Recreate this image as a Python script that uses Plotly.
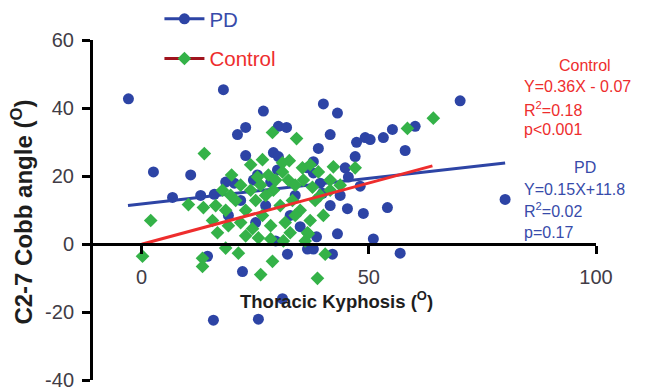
import plotly.graph_objects as go

# ---- data ----
pd_x = [-2.9, 18.0, 2.6, 10.8, 21.1, 22.9, 22.9, 6.8, 16.0, 18.5, 26.8, 40.0, 43.1, 30.1, 31.9,
        41.5, 49.2, 50.3, 47.3, 53.2, 55.2, 60.2, 38.9, 58.0, 29.0, 30.1, 37.8, 47.0, 29.9, 36.5,
        37.8, 44.8, 45.5, 24.6, 28.4, 39.3, 48.1, 70.1, 80.0, 45.3, 48.8, 54.1, 43.1, 51.0, 56.9,
        36.5, 37.8, 42.0, 32.1, 31.0, 25.7, 15.8, 22.2, 14.5, 27.3, 32.7, 34.9, 25.1, 38.5, 21.8,
        29.5, 19.1, 33.8, 41.5, 43.7, 20.4, 25.5, 39.8, 13.0]
pd_y = [42.7, 45.4, 21.2, 20.3, 32.2, 34.3, 26.0, 13.7, 14.6, 18.2, 39.1, 41.2, 38.5, 34.6, 34.3,
        32.2, 31.3, 30.7, 29.9, 31.3, 33.7, 34.6, 28.1, 27.5, 26.9, 25.7, 24.2, 25.7, 21.8, 22.4,
        20.9, 22.4, 19.7, 18.8, 18.2, 17.9, 17.0, 42.1, 13.1, 10.4, 9.0, 10.7, 3.0, 1.5, -2.7,
        -1.5, -1.5, -3.0, -3.0, -16.1, -22.1, -22.4, -8.1, -3.6, 11.3, 8.4, 5.1, 6.3, 2.1, 12.8,
        0.9, 8.4, 14.3, 11.3, 14.3, 17.9, 20.3, 14.9, 14.3]

ctrl_x = [13.8, 19.8, 25.5, 28.8, 34.1, 58.5, 64.2, 32.5, 31.0, 35.4, 42.2, 47.0, 35.6, 41.5, 37.6,
          29.0, 40.0, 36.5, 40.4, 25.7, 31.2, 36.0, 36.7, 28.8, 26.2, 38.7, 2.0, 10.3, 13.6, 0.2,
          13.4, 13.4, 18.5, 21.3, 16.7, 17.8, 19.6, 21.8, 24.0, 26.2, 27.9, 29.5, 31.0, 32.3, 33.8,
          16.3, 18.5, 20.7, 22.9, 25.1, 27.3, 30.5, 33.2, 34.9, 38.2, 15.6, 19.1, 21.8, 24.4, 26.6,
          28.4, 31.6, 33.8, 37.1, 22.9, 28.4, 32.7, 39.3, 41.5, 43.7, 26.6, 24.0, 37.1, 38.9]
ctrl_y = [26.6, 20.3, 19.7, 32.8, 31.0, 34.0, 37.0, 24.5, 23.9, 22.4, 22.7, 22.4, 18.8, 18.8, 16.7,
          15.8, 8.4, 3.3, -3.0, 1.8, 0.9, 0.9, 3.0, -5.1, -9.0, -10.1, 6.9, 11.6, 10.7, -3.6,
          -4.2, -6.6, -1.2, -2.7, 3.3, 15.8, 14.3, 17.3, 15.8, 17.3, 20.3, 18.8, 21.2, 18.8, 17.3,
          11.3, 9.9, 12.8, 9.9, 12.8, 14.3, 11.3, 12.8, 9.9, 12.8, 6.9, 5.4, 6.3, 4.5, 8.4,
          5.4, 6.3, 8.4, 6.9, 2.4, 1.5, 3.3, 14.3, 15.8, 17.3, 24.8, 23.3, 23.3, 21.2]

# regression equations shown on the chart
pd_slope, pd_intercept, pd_xspan = 0.15, 11.8, [-3, 80]
ctrl_slope, ctrl_intercept, ctrl_xspan = 0.36, -0.07, [0, 64]

x_ticks = [0, 50, 100]
x_ticklabels = ["0", "50", "100"]
y_ticks = [-40, -20, 0, 20, 40, 60]
y_ticklabels = ["-40", "-20", "0", "20", "40", "60"]

BLUE = "rgb(45,68,165)"
GREEN = "rgb(52,178,72)"
RED = "rgb(238,45,45)"
DARKRED = "rgb(160,20,30)"
TXT_BLUE = "rgb(55,75,170)"
FONT = "Arial, Liberation Sans, sans-serif"

fig = go.Figure()

fig.add_trace(go.Scatter(x=pd_x, y=pd_y, mode="markers", showlegend=False,
                         marker=dict(symbol="circle", size=11, color=BLUE)))
fig.add_trace(go.Scatter(x=pd_xspan, y=[pd_slope * v + pd_intercept for v in pd_xspan],
                         mode="lines", showlegend=False, line=dict(color=BLUE, width=3)))
fig.add_trace(go.Scatter(x=ctrl_x, y=ctrl_y, mode="markers", showlegend=False,
                         marker=dict(symbol="diamond", size=10.5, color=GREEN)))
fig.add_trace(go.Scatter(x=ctrl_xspan, y=[ctrl_slope * v + ctrl_intercept for v in ctrl_xspan],
                         mode="lines", showlegend=False, line=dict(color=RED, width=3)))

# legend entries
fig.add_trace(go.Scatter(x=[None], y=[None], mode="lines+markers", legendgroup="a",
                         name=f'<span style="color:{TXT_BLUE}">PD</span>',
                         line=dict(color=BLUE, width=3),
                         marker=dict(symbol="circle", size=11, color=BLUE)))
fig.add_trace(go.Scatter(x=[None], y=[None], mode="lines+markers", legendgroup="b",
                         name=f'<span style="color:{RED}">Control</span>',
                         line=dict(color=DARKRED, width=3),
                         marker=dict(symbol="diamond", size=10.5, color=GREEN)))

# the page body adds an 8px offset, so the figure is sized/positioned to compensate
OFF = 8
PL, PR, PT, PB = 92.5, 596, 40, 380          # plot area in screen pixels
W, H = 647 - OFF, 388 - OFF
L, R, T, B = PL - OFF, W - (PR - OFF), PT - OFF, H - (PB - OFF)
pw, ph = W - L - R, H - T - B


def px2paper(px, py):
    """screen pixel -> paper coordinates"""
    return (px - OFF - L) / pw, (H - B - (py - OFF)) / ph


anns = [
    ("Control", 585, 66, RED, "center"),
    ("Y=0.36X - 0.07", 523, 87, RED, "left"),
    ("R<sup>2</sup>=0.18", 523, 109, RED, "left"),
    ("p<0.001", 523, 130, RED, "left"),
    ("PD", 585, 167, TXT_BLUE, "center"),
    ("Y=0.15X+11.8", 523, 189, TXT_BLUE, "left"),
    ("R<sup>2</sup>=0.02", 523, 210, TXT_BLUE, "left"),
    ("p=0.17", 523, 232, TXT_BLUE, "left"),
]
for txt, px, py, col, al in anns:
    ax, ay = px2paper(px, py)
    fig.add_annotation(text=txt, xref="paper", yref="paper", x=ax, y=ay,
                       xanchor=al, yanchor="middle", showarrow=False, borderpad=0,
                       font=dict(family=FONT, size=16, color=col))

# axis titles
tx, ty = px2paper(336, 300)
fig.add_annotation(text="<b>Thoracic Kyphosis (<sup>O</sup>)</b>", xref="paper", yref="paper",
                   x=tx, y=ty, xanchor="center", yanchor="middle", showarrow=False,
                   font=dict(family=FONT, size=18.5, color="rgb(30,30,30)"))
yx, yy = px2paper(21, 212)
fig.add_annotation(text="<b>C2-7 Cobb angle (<sup>O</sup>)</b>", xref="paper", yref="paper",
                   x=yx, y=yy, xanchor="center", yanchor="middle", showarrow=False,
                   textangle=-90, font=dict(family=FONT, size=24, color="rgb(30,30,30)"))

lgx, _ = px2paper(159, 0)
_, lgy = px2paper(0, -1)
fig.update_layout(
    width=W, height=H,
    margin=dict(l=L, r=R, t=T, b=B, autoexpand=False),
    plot_bgcolor="white", paper_bgcolor="white",
    font=dict(family=FONT, color="rgb(60,60,60)"),
    legend=dict(x=lgx, y=lgy, xanchor="left", yanchor="top",
                font=dict(family=FONT, size=20.5), bgcolor="rgba(0,0,0,0)",
                traceorder="grouped", tracegroupgap=10, itemwidth=40),
    xaxis=dict(range=[-10.7, 100], tickvals=x_ticks, ticktext=x_ticklabels,
               showgrid=False, zeroline=False,
               showline=True, linecolor="black", linewidth=3,
               ticks="outside", ticklen=8, tickwidth=3, tickcolor="black",
               ticklabelstandoff=6, ticklabeloverflow="allow",
               tickfont=dict(size=20, color="rgb(65,60,70)"),
               anchor="free", position=0.4, automargin=False),
    yaxis=dict(range=[-40, 60], tickvals=y_ticks, ticktext=y_ticklabels,
               showgrid=False, zeroline=False,
               showline=True, linecolor="black", linewidth=3,
               ticks="outside", ticklen=8, tickwidth=3, tickcolor="black",
               ticklabelstandoff=4, ticklabeloverflow="allow",
               tickfont=dict(size=20, color="rgb(65,60,70)"), automargin=False),
)

fig.write_html("out.html")
